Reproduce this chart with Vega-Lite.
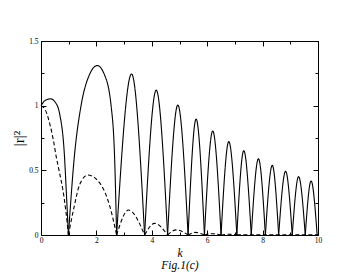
{
  "$schema": "https://vega.github.io/schema/vega-lite/v6.json",
  "autosize": "none",
  "width": 277,
  "height": 194,
  "padding": {"left": 41, "top": 41, "right": 40, "bottom": 42},
  "background": "white",
  "config": {
    "view": {"stroke": "black", "strokeWidth": 1}
  },
  "data": {
    "values": [
      {"k": 0, "r": 1.0, "curve": "s", "seg": "s1"},
      {"k": 0.15, "r": 1.04, "curve": "s", "seg": "s1"},
      {"k": 0.35, "r": 1.053, "curve": "s", "seg": "s1"},
      {"k": 0.52, "r": 1.025, "curve": "s", "seg": "s1"},
      {"k": 0.67, "r": 0.94, "curve": "s", "seg": "s1"},
      {"k": 0.85, "r": 0.6, "curve": "s", "seg": "s1"},
      {"k": 0.91, "r": 0.35, "curve": "s", "seg": "s1"},
      {"k": 0.99, "r": 0, "curve": "s", "seg": "s1"},
      {"k": 0.99, "r": 0, "curve": "s", "seg": "s2"},
      {"k": 1.21, "r": 0.62, "curve": "s", "seg": "s2"},
      {"k": 1.45, "r": 1.005, "curve": "s", "seg": "s2"},
      {"k": 1.75, "r": 1.24, "curve": "s", "seg": "s2"},
      {"k": 2.03, "r": 1.31, "curve": "s", "seg": "s2"},
      {"k": 2.29, "r": 1.24, "curve": "s", "seg": "s2"},
      {"k": 2.53, "r": 1.0, "curve": "s", "seg": "s2"},
      {"k": 2.66, "r": 0.58, "curve": "s", "seg": "s2"},
      {"k": 2.73, "r": 0, "curve": "s", "seg": "s2"},
      {"k": 2.73, "r": 0, "curve": "s", "seg": "s3"},
      {"k": 3.27, "r": 1.245, "curve": "s", "seg": "s3"},
      {"k": 3.74, "r": 0, "curve": "s", "seg": "s3"},
      {"k": 3.74, "r": 0, "curve": "s", "seg": "s4"},
      {"k": 4.16, "r": 1.12, "curve": "s", "seg": "s4"},
      {"k": 4.57, "r": 0, "curve": "s", "seg": "s4"},
      {"k": 4.57, "r": 0, "curve": "s", "seg": "s5"},
      {"k": 4.94, "r": 1.005, "curve": "s", "seg": "s5"},
      {"k": 5.31, "r": 0, "curve": "s", "seg": "s5"},
      {"k": 5.31, "r": 0, "curve": "s", "seg": "s6"},
      {"k": 5.60, "r": 0.897, "curve": "s", "seg": "s6"},
      {"k": 5.90, "r": 0, "curve": "s", "seg": "s6"},
      {"k": 5.90, "r": 0, "curve": "s", "seg": "s7"},
      {"k": 6.20, "r": 0.804, "curve": "s", "seg": "s7"},
      {"k": 6.50, "r": 0, "curve": "s", "seg": "s7"},
      {"k": 6.50, "r": 0, "curve": "s", "seg": "s8"},
      {"k": 6.78, "r": 0.722, "curve": "s", "seg": "s8"},
      {"k": 7.07, "r": 0, "curve": "s", "seg": "s8"},
      {"k": 7.07, "r": 0, "curve": "s", "seg": "s9"},
      {"k": 7.32, "r": 0.652, "curve": "s", "seg": "s9"},
      {"k": 7.59, "r": 0, "curve": "s", "seg": "s9"},
      {"k": 7.59, "r": 0, "curve": "s", "seg": "s10"},
      {"k": 7.85, "r": 0.59, "curve": "s", "seg": "s10"},
      {"k": 8.10, "r": 0, "curve": "s", "seg": "s10"},
      {"k": 8.10, "r": 0, "curve": "s", "seg": "s11"},
      {"k": 8.35, "r": 0.539, "curve": "s", "seg": "s11"},
      {"k": 8.58, "r": 0, "curve": "s", "seg": "s11"},
      {"k": 8.58, "r": 0, "curve": "s", "seg": "s12"},
      {"k": 8.83, "r": 0.493, "curve": "s", "seg": "s12"},
      {"k": 9.07, "r": 0, "curve": "s", "seg": "s12"},
      {"k": 9.07, "r": 0, "curve": "s", "seg": "s13"},
      {"k": 9.30, "r": 0.451, "curve": "s", "seg": "s13"},
      {"k": 9.54, "r": 0, "curve": "s", "seg": "s13"},
      {"k": 9.54, "r": 0, "curve": "s", "seg": "s14"},
      {"k": 9.75, "r": 0.418, "curve": "s", "seg": "s14"},
      {"k": 9.97, "r": 0, "curve": "s", "seg": "s14"},
      {"k": 0, "r": 1.0, "curve": "d", "seg": "d1"},
      {"k": 0.15, "r": 0.97, "curve": "d", "seg": "d1"},
      {"k": 0.31, "r": 0.865, "curve": "d", "seg": "d1"},
      {"k": 0.45, "r": 0.73, "curve": "d", "seg": "d1"},
      {"k": 0.55, "r": 0.605, "curve": "d", "seg": "d1"},
      {"k": 0.67, "r": 0.48, "curve": "d", "seg": "d1"},
      {"k": 0.79, "r": 0.35, "curve": "d", "seg": "d1"},
      {"k": 0.9, "r": 0.18, "curve": "d", "seg": "d1"},
      {"k": 0.99, "r": 0, "curve": "d", "seg": "d1"},
      {"k": 0.99, "r": 0, "curve": "d", "seg": "d2"},
      {"k": 1.21, "r": 0.232, "curve": "d", "seg": "d2"},
      {"k": 1.39, "r": 0.387, "curve": "d", "seg": "d2"},
      {"k": 1.69, "r": 0.464, "curve": "d", "seg": "d2"},
      {"k": 2.17, "r": 0.387, "curve": "d", "seg": "d2"},
      {"k": 2.47, "r": 0.232, "curve": "d", "seg": "d2"},
      {"k": 2.73, "r": 0, "curve": "d", "seg": "d2"},
      {"k": 2.73, "r": 0, "curve": "d", "seg": "d3"},
      {"k": 3.16, "r": 0.193, "curve": "d", "seg": "d3"},
      {"k": 3.74, "r": 0, "curve": "d", "seg": "d3"},
      {"k": 3.74, "r": 0, "curve": "d", "seg": "d4"},
      {"k": 4.10, "r": 0.09, "curve": "d", "seg": "d4"},
      {"k": 4.57, "r": 0, "curve": "d", "seg": "d4"},
      {"k": 4.57, "r": 0, "curve": "d", "seg": "d5"},
      {"k": 4.88, "r": 0.04, "curve": "d", "seg": "d5"},
      {"k": 5.31, "r": 0, "curve": "d", "seg": "d5"},
      {"k": 5.31, "r": 0, "curve": "d", "seg": "d6"},
      {"k": 5.57, "r": 0.02, "curve": "d", "seg": "d6"},
      {"k": 5.90, "r": 0, "curve": "d", "seg": "d6"},
      {"k": 5.90, "r": 0, "curve": "d", "seg": "d7"},
      {"k": 6.18, "r": 0.01, "curve": "d", "seg": "d7"},
      {"k": 6.50, "r": 0, "curve": "d", "seg": "d7"},
      {"k": 6.50, "r": 0, "curve": "d", "seg": "d8"},
      {"k": 6.76, "r": 0.006, "curve": "d", "seg": "d8"},
      {"k": 7.07, "r": 0, "curve": "d", "seg": "d8"},
      {"k": 7.07, "r": 0.002, "curve": "d", "seg": "d9"},
      {"k": 10, "r": 0.002, "curve": "d", "seg": "d9"}
    ]
  },
  "layer": [
    {
      "mark": {"type": "line", "interpolate": "monotone", "color": "black", "strokeWidth": 1.1},
      "encoding": {
        "x": {
          "field": "k", "type": "quantitative",
          "scale": {"domain": [0, 10], "nice": false, "zero": false},
          "axis": {
            "orient": "bottom",
            "domain": false,
            "grid": false,
            "values": [0, 1, 2, 3, 4, 5, 6, 7, 8, 9, 10],
            "labelExpr": "datum.value % 2 === 0 ? '' + datum.value : ''",
            "tickColor": "black",
            "tickWidth": 1,
            "tickSize": {"condition": {"test": "datum.value % 2 === 0", "value": -5}, "value": -3},
            "labelFont": "Liberation Serif",
            "labelFontSize": 7.5,
            "labelColor": "black",
            "labelFlush": false,
            "labelOverlap": false,
            "labelPadding": 6,
            "title": ["k", "Fig.1(c)"],
            "titleFont": "Liberation Serif",
            "titleColor": "black",
            "titleFontWeight": "normal",
            "titleFontSize": 11.5,
            "titleFontStyle": "italic",
            "titleLineHeight": 11.5,
            "titlePadding": 2
          }
        },
        "y": {
          "field": "r", "type": "quantitative",
          "scale": {"domain": [0, 1.5], "nice": false, "zero": false},
          "axis": {
            "orient": "left",
            "domain": false,
            "grid": false,
            "values": [0, 0.25, 0.5, 0.75, 1, 1.25, 1.5],
            "labelExpr": "datum.value % 0.5 === 0 ? '' + datum.value : ''",
            "tickColor": "black",
            "tickWidth": 1,
            "tickSize": {"condition": {"test": "datum.value % 0.5 === 0", "value": -5}, "value": -3},
            "labelFont": "Liberation Serif",
            "labelFontSize": 7.5,
            "labelColor": "black",
            "labelFlush": false,
            "labelOverlap": false,
            "labelPadding": 8,
            "title": "|r|²",
            "titleFont": "Liberation Serif",
            "titleColor": "black",
            "titleFontWeight": "normal",
            "titleFontSize": 15,
            "titleX": -15,
            "titleY": 97,
            "titleBaseline": "bottom",
            "titleAngle": 270
          }
        },
        "detail": {"field": "seg"},
        "strokeDash": {
          "field": "curve", "type": "nominal",
          "scale": {"domain": ["s", "d"], "range": [[1, 0], [4, 2.5]]},
          "legend": null
        }
      }
    },
    {
      "mark": {"type": "point", "opacity": 0},
      "encoding": {
        "x": {
          "field": "k", "type": "quantitative",
          "axis": {
            "orient": "top",
            "domain": false,
            "grid": false,
            "values": [0, 1, 2, 3, 4, 5, 6, 7, 8, 9, 10],
            "labels": false,
            "title": null,
            "tickColor": "black",
            "tickWidth": 1,
            "tickSize": {"condition": {"test": "datum.value % 2 === 0", "value": -5}, "value": -3}
          }
        },
        "y": {
          "field": "r", "type": "quantitative",
          "axis": {
            "orient": "right",
            "domain": false,
            "grid": false,
            "values": [0, 0.25, 0.5, 0.75, 1, 1.25, 1.5],
            "labels": false,
            "title": null,
            "tickColor": "black",
            "tickWidth": 1,
            "tickSize": {"condition": {"test": "datum.value % 0.5 === 0", "value": -5}, "value": -3}
          }
        }
      }
    }
  ],
  "resolve": {"axis": {"x": "independent", "y": "independent"}}
}
